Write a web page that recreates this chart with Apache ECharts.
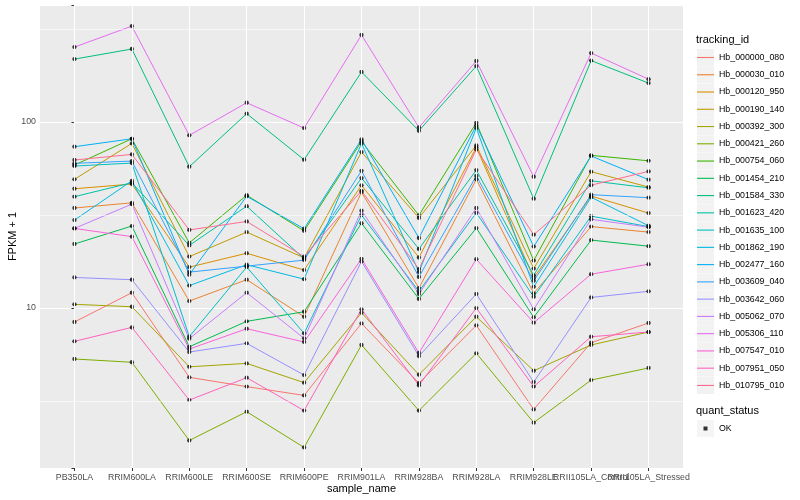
<!DOCTYPE html>
<html><head><meta charset="utf-8">
<script src="https://cdn.jsdelivr.net/npm/echarts@6/dist/echarts.min.js"></script>
<style>html,body{margin:0;padding:0;background:#fff}#c{width:800px;height:500px}</style>
</head><body><div id="c"></div>
<script>
const samples = ['PB350LA','RRIM600LA','RRIM600LE','RRIM600SE','RRIM600PE','RRIM901LA','RRIM928BA','RRIM928LA','RRIM928LE','RRII105LA_Control','RRII105LA_Stressed'];
const trackingIds = ['Hb_000000_080','Hb_000030_010','Hb_000120_950','Hb_000190_140','Hb_000392_300','Hb_000421_260','Hb_000754_060','Hb_001454_210','Hb_001584_330','Hb_001623_420','Hb_001635_100','Hb_001862_190','Hb_002477_160','Hb_003609_040','Hb_003642_060','Hb_005062_070','Hb_005306_110','Hb_007547_010','Hb_007951_050','Hb_010795_010'];
const colors = ['#F8766D','#EA8331','#D89000','#C09B00','#A3A500','#7CAE00','#39B600','#00BB4E','#00BF7D','#00C1A3','#00BFC4','#00BAE0','#00B0F6','#35A2FF','#9590FF','#C77CFF','#E76BF3','#FA62DB','#FF62BC','#FF6C91'];

// FPKM + 1 per tracking id, in sample order
const Hb_000000_080 = [8.41, 12.09, 4.24, 3.78, 3.39, 8.27, 3.95, 8.07, 2.85, 6.51, 8.31];
const Hb_000030_010 = [34.5, 36.8, 10.9, 14.2, 8.98, 42.0, 12.8, 49.2, 12.0, 27.4, 25.6];
const Hb_000120_950 = [43.8, 46.4, 16.6, 19.7, 16.0, 45.7, 18.7, 73.1, 14.5, 40.0, 32.4];
const Hb_000190_140 = [49.2, 76.8, 18.9, 25.6, 18.6, 69.0, 30.5, 74.9, 16.3, 54.1, 44.7];
const Hb_000392_300 = [10.47, 10.16, 4.83, 5.04, 3.97, 9.43, 4.38, 8.98, 4.60, 6.33, 7.43];
const Hb_000421_260 = [5.32, 5.11, 1.94, 2.77, 1.78, 6.33, 2.81, 5.71, 2.42, 4.10, 4.76];
const Hb_000754_060 = [58.7, 81.3, 22.4, 40.4, 26.0, 78.7, 31.5, 99.1, 18.0, 66.2, 61.9];
const Hb_001454_210 = [22.1, 27.6, 6.19, 8.48, 9.55, 28.6, 11.2, 26.9, 8.91, 23.2, 21.5];
const Hb_001584_330 = [218, 247, 57.5, 111, 62.7, 186, 89.8, 200, 38.7, 214, 162];
const Hb_001623_420 = [39.7, 47.2, 21.7, 35.3, 18.4, 50.0, 20.8, 55.2, 15.0, 48.3, 44.3];
const Hb_001635_100 = [58.0, 60.2, 7.01, 16.6, 7.31, 31.6, 12.3, 32.5, 11.5, 31.2, 27.4];
const Hb_001862_190 = [29.7, 48.3, 13.2, 17.1, 14.3, 76.8, 15.6, 92.9, 13.0, 39.4, 27.7];
const Hb_002477_160 = [73.7, 81.3, 15.1, 39.9, 26.7, 80.7, 23.8, 96.0, 21.4, 65.7, 49.0];
const Hb_003609_040 = [60.0, 61.7, 15.6, 16.8, 18.1, 54.7, 14.7, 51.3, 14.0, 40.7, 39.2];
const Hb_003642_060 = [14.6, 14.2, 5.80, 6.46, 4.36, 17.8, 5.52, 11.9, 4.00, 11.4, 12.3];
const Hb_005062_070 = [26.8, 36.2, 6.84, 12.1, 6.87, 33.4, 11.9, 34.5, 9.84, 30.0, 27.2];
const Hb_005306_110 = [253, 328, 84.8, 127, 92.8, 294, 93.5, 213, 50.8, 235, 170];
const Hb_007547_010 = [26.8, 24.2, 6.02, 7.74, 6.57, 18.4, 5.73, 18.3, 8.34, 15.2, 17.2];
const Hb_007951_050 = [6.62, 7.87, 3.20, 4.22, 2.81, 9.84, 3.84, 10.0, 3.78, 7.01, 7.43];
const Hb_010795_010 = [62.5, 67.0, 26.3, 29.2, 18.9, 42.7, 16.2, 71.3, 24.8, 45.8, 54.3];

const seriesValues = [Hb_000000_080, Hb_000030_010, Hb_000120_950, Hb_000190_140, Hb_000392_300, Hb_000421_260, Hb_000754_060, Hb_001454_210, Hb_001584_330, Hb_001623_420, Hb_001635_100, Hb_001862_190, Hb_002477_160, Hb_003609_040, Hb_003642_060, Hb_005062_070, Hb_005306_110, Hb_007547_010, Hb_007951_050, Hb_010795_010];

const yTickLabels = [10, 100];
const yMinorBreaks = [3.1623, 31.623, 316.23];
const quantStatus = ['OK'];

const FONT = '"Liberation Sans", Arial, sans-serif';
const chart = echarts.init(document.getElementById('c'), null, {renderer: 'canvas'});

const X_MIN = -0.6, X_MAX = samples.length - 1 + 0.6;
const xPositions = samples.map((s, i) => i);

const lineSeries = trackingIds.map((id, k) => ({
  name: id, type: 'line', z: 3, silent: true,
  data: samples.map((s, i) => [i, seriesValues[k][i]]),
  showSymbol: false, symbol: 'none',
  lineStyle: {color: colors[k], width: 1},
  itemStyle: {color: colors[k]}
}));

const pointData = [];
seriesValues.forEach(arr => arr.forEach((v, i) => pointData.push([i, v])));

const gridSeries = {
  name: '_grid', type: 'line', data: [], z: 1, silent: true,
  markLine: {
    silent: true, symbol: 'none', animation: false, label: {show: false},
    data: [
      ...xPositions.map(i => ({xAxis: i, lineStyle: {color: '#FFFFFF', width: 1.1, type: 'solid'}})),
      ...yMinorBreaks.map(v => ({yAxis: v, lineStyle: {color: '#FFFFFF', width: 0.55, type: 'solid'}}))
    ]
  }
};

const legendText = {fontSize: 8.8, lineHeight: 17, fontFamily: FONT, color: '#000'};
const legendBase = {orient: 'vertical', left: 697, top: 49, padding: 0, itemGap: 0.26, itemWidth: 17, selectedMode: false, icon: 'rect'};

chart.setOption({
  animation: false,
  backgroundColor: '#FFFFFF',
  textStyle: {fontFamily: FONT},
  title: [
    {text: 'tracking_id', left: 696, top: 34, padding: 0, textStyle: {fontSize: 11, fontWeight: 'normal', color: '#000', fontFamily: FONT}},
    {text: 'quant_status', left: 696, top: 405, padding: 0, textStyle: {fontSize: 11, fontWeight: 'normal', color: '#000', fontFamily: FONT}}
  ],
  grid: {left: 40, right: 117, top: 5, bottom: 32, show: true, backgroundColor: '#EBEBEB', borderWidth: 0, containLabel: false, outerBoundsMode: 'none'},
  xAxis: {
    type: 'value', min: X_MIN, max: X_MAX,
    axisLine: {show: false},
    axisTick: {show: true, customValues: xPositions, length: 3, lineStyle: {color: '#333333', width: 1}},
    axisLabel: {customValues: [X_MIN, ...xPositions, X_MAX],
      formatter: v => (Math.abs(v - Math.round(v)) < 1e-6 && samples[Math.round(v)]) ? samples[Math.round(v)] : '',
      fontSize: 8.8, color: '#4D4D4D', margin: 5, fontFamily: FONT, hideOverlap: false},
    splitLine: {show: false},
    name: 'sample_name', nameLocation: 'middle', nameGap: 15, nameMoveOverlap: false,
    nameTextStyle: {fontSize: 11, color: '#000', fontFamily: FONT}
  },
  yAxis: {
    type: 'log', logBase: 10, min: 1.38, max: 426,
    axisLine: {show: false},
    axisTick: {show: true, length: 3, lineStyle: {color: '#333333', width: 1}},
    axisLabel: {customValues: yTickLabels, formatter: v => String(Math.round(v)), fontSize: 8.8, color: '#4D4D4D', margin: 4, fontFamily: FONT},
    splitLine: {show: true, lineStyle: {color: '#FFFFFF', width: 1.1}},
    name: 'FPKM + 1', nameLocation: 'middle', nameGap: 22, nameRotate: 90, nameMoveOverlap: false,
    nameTextStyle: {fontSize: 11, color: '#000', fontFamily: FONT}
  },
  legend: [
    Object.assign({}, legendBase, {itemHeight: 17, itemStyle: {borderWidth: 0},
      data: trackingIds.map(id => ({name: id, itemStyle: {color: '#F2F2F2', borderWidth: 0}})),
      textStyle: legendText}),
    Object.assign({}, legendBase, {itemHeight: 1.1, itemStyle: {borderWidth: 0},
      data: trackingIds.map((id, k) => ({name: id, itemStyle: {color: colors[k], borderWidth: 0}})),
      textStyle: Object.assign({}, legendText, {color: 'rgba(0,0,0,0)'})}),
    Object.assign({}, legendBase, {top: 420, itemHeight: 17, itemStyle: {borderWidth: 0},
      data: quantStatus.map(n => ({name: n, itemStyle: {color: '#F2F2F2', borderWidth: 0}})),
      textStyle: legendText}),
    Object.assign({}, legendBase, {top: 420, left: 703.5, itemWidth: 4, itemHeight: 4, itemStyle: {borderWidth: 0},
      data: quantStatus.map(n => ({name: n, itemStyle: {color: '#000', borderWidth: 0}})),
      textStyle: Object.assign({}, legendText, {color: 'rgba(0,0,0,0)'})})
  ],
  series: [gridSeries, ...lineSeries, {
    name: quantStatus[0], type: 'scatter', z: 4, silent: true,
    data: pointData, symbol: 'circle', symbolSize: 4.3,
    itemStyle: {color: '#000000', borderWidth: 0}
  }]
});
</script></body></html>
